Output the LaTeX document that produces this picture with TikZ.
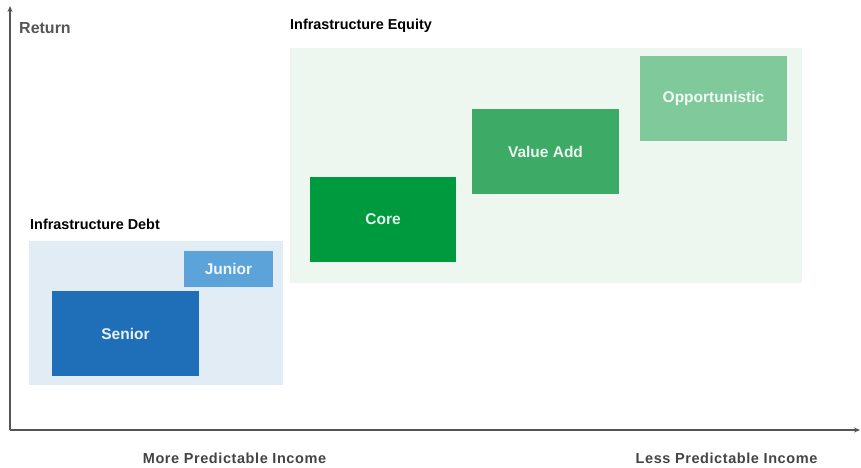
\documentclass[tikz,border=0pt]{standalone}
\usepackage{fontspec}
\setmainfont{Liberation Sans}
\usepackage{xcolor}
\usetikzlibrary{arrows.meta,positioning}

\definecolor{eqbg}{HTML}{EEF6F0}
\definecolor{debtbgc}{HTML}{E1ECF5}
\definecolor{corec}{HTML}{009A3E}
\definecolor{valc}{HTML}{3DAA66}
\definecolor{oppc}{HTML}{7FC99A}
\definecolor{juniorc}{HTML}{5BA3D8}
\definecolor{seniorc}{HTML}{1F6FB8}
\definecolor{axisc}{HTML}{555555}

\begin{document}
\begin{tikzpicture}[
    x=1pt, y=-1pt,
    >={Stealth[length=6pt,width=5pt]},
    block/.style={fill=#1, text=white!90!#1, inner sep=0pt, font=\bfseries\fontsize{15.5}{18}\selectfont},
    title/.style={anchor=west, inner sep=0pt, font=\bfseries\fontsize{14.4}{17}\selectfont},
    axislabel/.style={inner sep=0pt, text=axisc!80!black, font=\bfseries\fontsize{14.5}{17}\selectfont\addfontfeature{LetterSpace=4}}
]
\useasboundingbox (0,0) rectangle (861,467);

% Hintergrundflaechen
\node[fill=eqbg, inner sep=0pt, minimum width=512pt, minimum height=235pt] (equitybg) at (546,165.5) {};
\node[fill=debtbgc, inner sep=0pt, minimum width=254pt, minimum height=144pt] (debtbg) at (156,313) {};

% Titel
\node[title] (equitytitle) at (290,26) {Infrastructure Equity};
\node[title] (debttitle) at (30,224) {Infrastructure Debt};

% Equity-Stufen
\node[block=corec, minimum width=146pt, minimum height=85pt] (core) at (383,219.5) {Core};
\node[block=valc, minimum width=147pt, minimum height=85pt] (valueadd) at (545.5,151.5) {Value Add};
\node[block=oppc, minimum width=147pt, minimum height=85pt] (opport) at (713.5,98.5) {Opportunistic};

% Debt-Stufen
\node[block=juniorc, minimum width=89pt, minimum height=36pt] (junior) at (228.5,269) {Junior};
\node[block=seniorc, minimum width=147pt, minimum height=85pt] (senior) at (125.5,333.5) {Senior};

% Achsen
\coordinate (origin) at (10,430);
\coordinate (ytop) at (10,6);
\coordinate (xend) at (860,430);
\draw[->, line width=1.3pt, axisc] (origin) -- (ytop);
\draw[->, line width=1.3pt, axisc] (origin) -- (xend);

\node[anchor=west, inner sep=0pt, text=axisc, font=\bfseries\fontsize{16}{19}\selectfont] (ret) at (19,28) {Return};
\node[axislabel] (moreinc) at (234.5,458) {More Predictable Income};
\node[axislabel] (lessinc) at (726.5,458) {Less Predictable Income};

\end{tikzpicture}
\end{document}
